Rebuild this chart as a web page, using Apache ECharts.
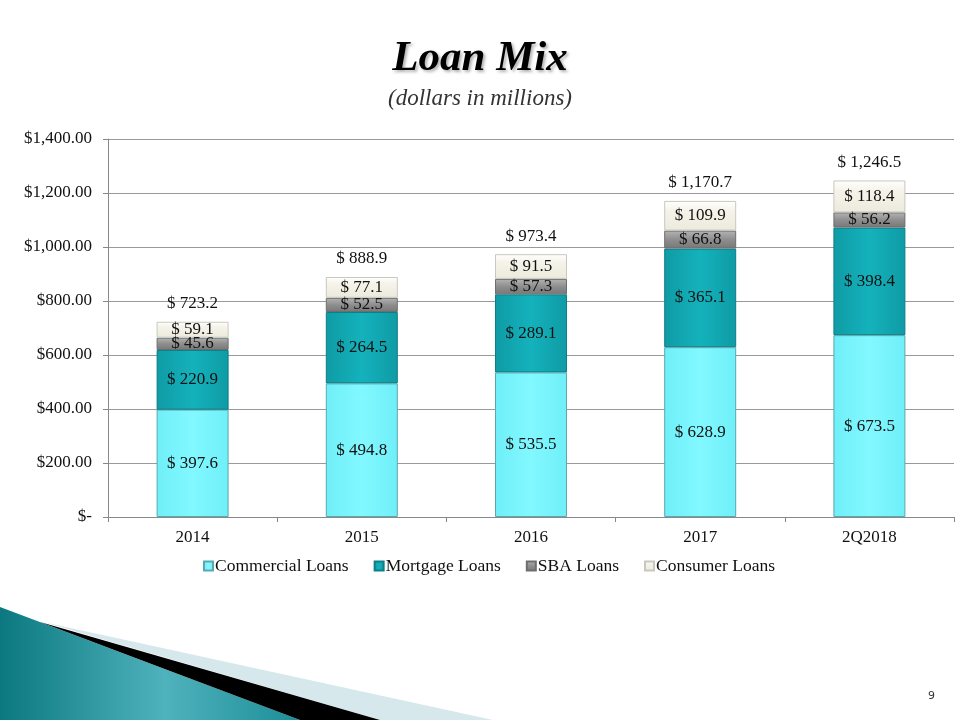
<!DOCTYPE html>
<html>
<head>
<meta charset="utf-8">
<script src="https://cdn.jsdelivr.net/npm/echarts@6/dist/echarts.min.js"></script>
<style>html,body{margin:0;padding:0;background:#fff}#c{width:960px;height:720px}</style>
</head>
<body>
<div id="c"></div>
<script>
const categories = ['2014', '2015', '2016', '2017', '2Q2018'];
const commercial = [397.6, 494.8, 535.5, 628.9, 673.5];
const mortgage = [220.9, 264.5, 289.1, 365.1, 398.4];
const sba = [45.6, 52.5, 57.3, 66.8, 56.2];
const consumer = [59.1, 77.1, 91.5, 109.9, 118.4];
const totals = [723.2, 888.9, 973.4, 1170.7, 1246.5];
const yTicks = [0, 200, 400, 600, 800, 1000, 1200, 1400];

const serif = '"Liberation Serif", "Times New Roman", serif';
function money(v, dec) {
  return v.toLocaleString('en-US', {minimumFractionDigits: dec, maximumFractionDigits: dec});
}
const chart = echarts.init(document.getElementById('c'));
function lbl(color) {
  return {show: true, position: 'inside', fontFamily: serif, fontSize: 17, color: color || '#111',
    formatter: p => '$ ' + money(p.value, 1)};
}
function grad(c1, c2, c3) {
  return {type: 'linear', x: 0, y: 0, x2: 1, y2: 0, colorStops: [
    {offset: 0, color: c1}, {offset: 0.5, color: c2}, {offset: 1, color: c3}]};
}
const barW = 72;
chart.setOption({
  animation: false,
  title: [
    {text: 'Loan Mix', left: 'center', top: 32,
      textStyle: {fontFamily: serif, fontStyle: 'italic', fontWeight: 'bold', fontSize: 43, color: '#000',
        textShadowColor: 'rgba(0,0,0,0.3)', textShadowBlur: 3, textShadowOffsetX: 2, textShadowOffsetY: 2}},
    {text: '(dollars in millions)', left: 'center', top: 82,
      textStyle: {fontFamily: serif, fontStyle: 'italic', fontWeight: 'normal', fontSize: 23, color: '#333'}}
  ],
  legend: {
    data: ['Commercial Loans', 'Mortgage Loans', 'SBA Loans', 'Consumer Loans'],
    top: 552, left: 198, itemWidth: 9, itemHeight: 9, itemGap: 25, icon: 'rect',
    textStyle: {fontFamily: serif, fontSize: 17.5, color: '#111', padding: [0, 0, 0, -3]}
  },
  grid: {left: 108, right: 6, top: 139, bottom: 203},
  xAxis: {
    type: 'category', data: categories,
    axisLine: {lineStyle: {color: '#888'}},
    axisTick: {show: true, length: 5, lineStyle: {color: '#888'}},
    axisLabel: {fontFamily: serif, fontSize: 17, color: '#111', margin: 12}
  },
  yAxis: {
    type: 'value', min: 0, max: 1400, interval: 200,
    axisLine: {show: true, lineStyle: {color: '#888'}},
    axisTick: {show: true, length: 5, lineStyle: {color: '#888'}},
    splitLine: {lineStyle: {color: '#999'}},
    axisLabel: {fontFamily: serif, fontSize: 17, color: '#111', margin: 16,
      formatter: v => v === 0 ? '$-' : '$' + money(v, 2)}
  },
  series: [
    {name: 'Commercial Loans', type: 'bar', stack: 'a', data: commercial, barWidth: barW,
      itemStyle: {color: grad('#6FEFF8', '#82F8FF', '#6FEFF8'), borderColor: '#5BA9AE', borderWidth: 1},
      label: lbl()},
    {name: 'Mortgage Loans', type: 'bar', stack: 'a', data: mortgage, barWidth: barW,
      itemStyle: {color: grad('#0F9BA5', '#14B2BC', '#0F9BA5'), borderColor: '#0D7F87', borderWidth: 1},
      label: lbl()},
    {name: 'SBA Loans', type: 'bar', stack: 'a', data: sba, barWidth: barW,
      itemStyle: {color: {type: 'linear', x: 0, y: 0, x2: 0, y2: 1, colorStops: [
        {offset: 0, color: '#B4B4B4'}, {offset: 0.5, color: '#8E8E8E'}, {offset: 1, color: '#777'}]},
        borderColor: '#6E6E6E', borderWidth: 1},
      label: lbl()},
    {name: 'Consumer Loans', type: 'bar', stack: 'a', data: consumer, barWidth: barW,
      itemStyle: {color: {type: 'linear', x: 0, y: 0, x2: 0, y2: 1, colorStops: [
        {offset: 0, color: '#FFFFFF'}, {offset: 0.3, color: '#F6F4EA'}, {offset: 1, color: '#ECEADC'}]},
        borderColor: '#C8C8C0', borderWidth: 1},
      label: lbl()},
    {name: 'Total', type: 'line', data: totals, symbol: 'circle', symbolSize: 1, showSymbol: true,
      silent: true, z: 10,
      itemStyle: {color: 'rgba(0,0,0,0)'},
      lineStyle: {opacity: 0},
      label: {show: true, position: 'top', distance: 9, fontFamily: serif, fontSize: 17, color: '#111',
        formatter: p => '$ ' + money(p.value, 1)}}
  ],
  graphic: [
    {type: 'polygon', shape: {points: [[0, 607], [300, 720], [0, 720]]}, silent: true,
      style: {fill: {type: 'linear', x: 0, y: 0, x2: 1, y2: 0, colorStops: [
        {offset: 0, color: '#0B7880'}, {offset: 0.55, color: '#4FB2BC'}, {offset: 1, color: '#1C8E98'}]}}},
    {type: 'polygon', shape: {points: [[43, 622], [493, 720], [380, 720]]}, silent: true,
      style: {fill: '#D6E8EC'}},
    {type: 'polygon', shape: {points: [[40, 622], [380, 720], [300, 720]]}, silent: true,
      style: {fill: '#000'}},
    {type: 'text', left: 928, top: 691, silent: true,
      style: {text: '9', fontFamily: '"DejaVu Sans", sans-serif', fontSize: 11, fill: '#333'}}
  ]
});
</script>
</body>
</html>
